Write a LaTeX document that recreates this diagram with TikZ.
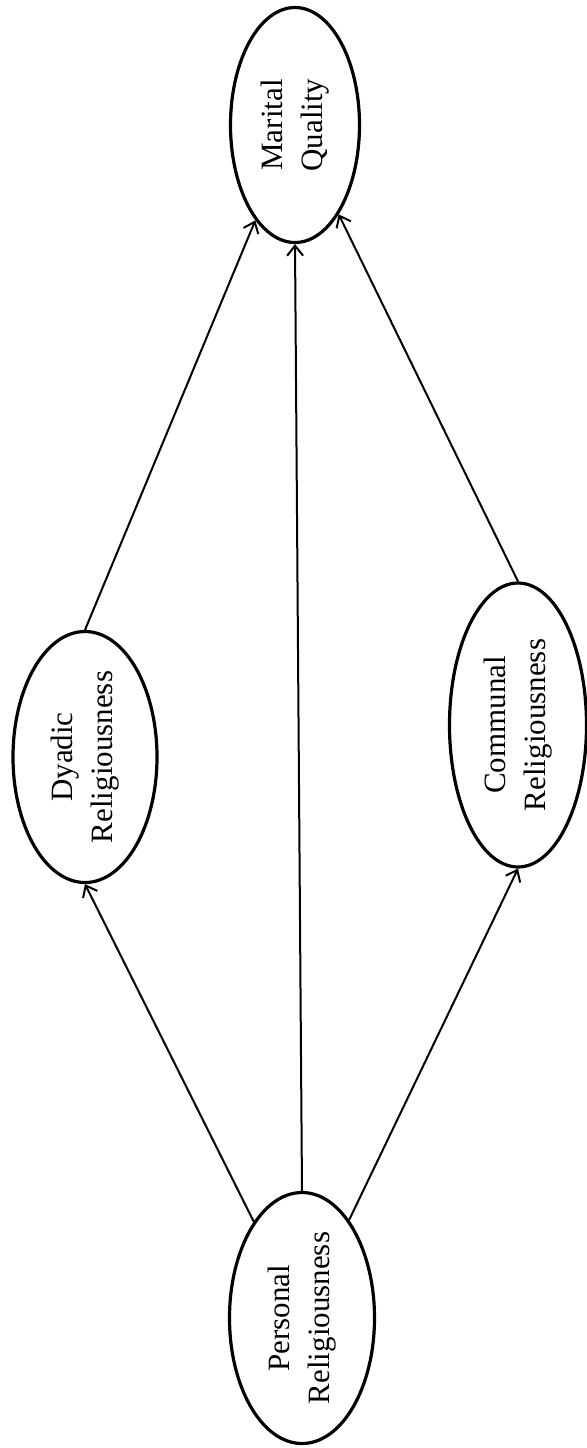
\documentclass[tikz,border=0pt]{standalone}
\usepackage{fontspec}
\setmainfont{Liberation Serif}
\usetikzlibrary{positioning, arrows.meta, shapes.geometric}

\begin{document}
\begin{tikzpicture}
    [
        x=0.5pt, y=0.5pt, on grid,
        latent/.style={ellipse, draw=black, fill=white, line width=1.6pt, rotate=90, inner sep=0pt, align=center, font=\fontsize{15.5}{20}\selectfont},
        path_arrow/.style={-{Straight Barb[length=5pt, width=8pt]}, line width=1pt, color=black},
    ]
        \useasboundingbox (0,0) rectangle (587,-1448);
        \node[latent, minimum width=125.5pt, minimum height=72.5pt] (personal) at (302,-1318) {Personal\\Religiousness} ;
        \node[latent, minimum width=125.5pt, minimum height=72pt] (dyadic) [above left = 280.5pt and 108.5pt of personal] {Dyadic\\Religiousness} ;
        \node[latent, minimum width=142pt, minimum height=68.5pt] (communal) [above right = 296.5pt and 108pt of personal] {Communal\\Religiousness} ;
        \node[latent, minimum width=117.5pt, minimum height=64.5pt] (marital) [above left = 596.5pt and 3.5pt of personal] {Marital\\Quality} ;
        \draw[path_arrow] (personal) -- (dyadic.west) ;
        \draw[path_arrow] (personal) -- (communal.west) ;
        \draw[path_arrow] (personal.east) -- (marital.west) ;
        \draw[path_arrow] (dyadic.east) -- (marital) ;
        \draw[path_arrow] (communal.east) -- (marital) ;
    \end{tikzpicture}
\end{document}
